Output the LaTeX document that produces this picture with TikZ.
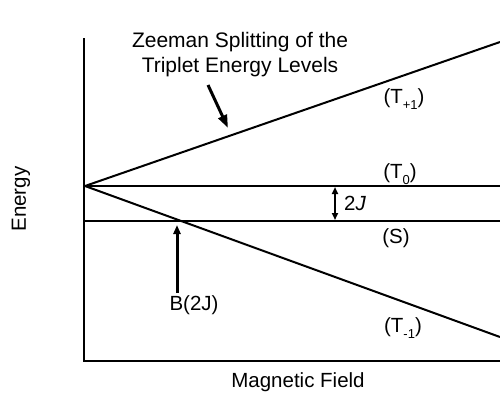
\documentclass[tikz,border=0pt]{standalone}
\usepackage{fontspec}
\setmainfont{Liberation Sans}
\usetikzlibrary{arrows.meta}
\newcommand{\lvsub}[1]{\raisebox{-0.5ex}{\fontsize{13}{13}\selectfont #1}}
\begin{document}
\begin{tikzpicture}[x=1pt,y=-1pt,
  level/.style={line width=2pt},
  axis/.style={line width=2pt},
  lbl/.style={font=\fontsize{20.5}{22}\selectfont, inner sep=0pt},
  bigarrow/.style={line width=3pt, -{Triangle[length=13pt,width=9pt]}},
  gaparrow/.style={line width=1.8pt, {Triangle[length=7pt,width=6pt]}-{Triangle[length=7pt,width=6pt]}}]
\useasboundingbox (0,0) rectangle (500,392);
% coordinates
\coordinate (O) at (85,186);
\coordinate (ytop) at (84,38);
\coordinate (corner) at (84,361);
\coordinate (xend) at (500,361);
\coordinate (tp) at (500,42);
\coordinate (t0) at (500,186);
\coordinate (sl) at (84,221);
\coordinate (sr) at (500,221);
\coordinate (tm) at (500,337);
% axes
\draw[axis] (ytop) -- (corner) -- (xend);
% levels
\draw[level] (O) -- (tp);
\draw[level] (O) -- (t0);
\draw[level] (sl) -- (sr);
\draw[level] (O) -- (tm);
% labels
\node[lbl] (ltp) at (404,99) {(T\lvsub{+1})};
\node[lbl] (lt0) at (400,174) {(T\lvsub{0})};
\node[lbl] (ls) at (396,238) {(S)};
\node[lbl] (ltm) at (403,328) {(T\lvsub{-1})};
\node[lbl, align=center, font=\fontsize{21}{25}\selectfont] (zee) at (240,55) {Zeeman Splitting of the\\Triplet Energy Levels};
\node[lbl, rotate=90] (en) at (21,199) {Energy};
\node[lbl] (mf) at (298,382) {Magnetic Field};
\node[lbl] (b2j) at (194,305) {B(2J)};
\node[lbl, anchor=west] (twoj) at (344,203) {2\textit{J}};
% arrows
\coordinate (zs) at (208,85);
\coordinate (ze) at (228,128);
\draw[bigarrow] (zs) -- (ze);
\coordinate (bs) at (177,293);
\coordinate (be) at (177,225);
\draw[bigarrow, -{Triangle[length=9pt,width=7pt]}] (bs) -- (be);
\coordinate (ga) at (335,187);
\coordinate (gb) at (335,220);
\draw[gaparrow] (ga) -- (gb);
\end{tikzpicture}
\end{document}
